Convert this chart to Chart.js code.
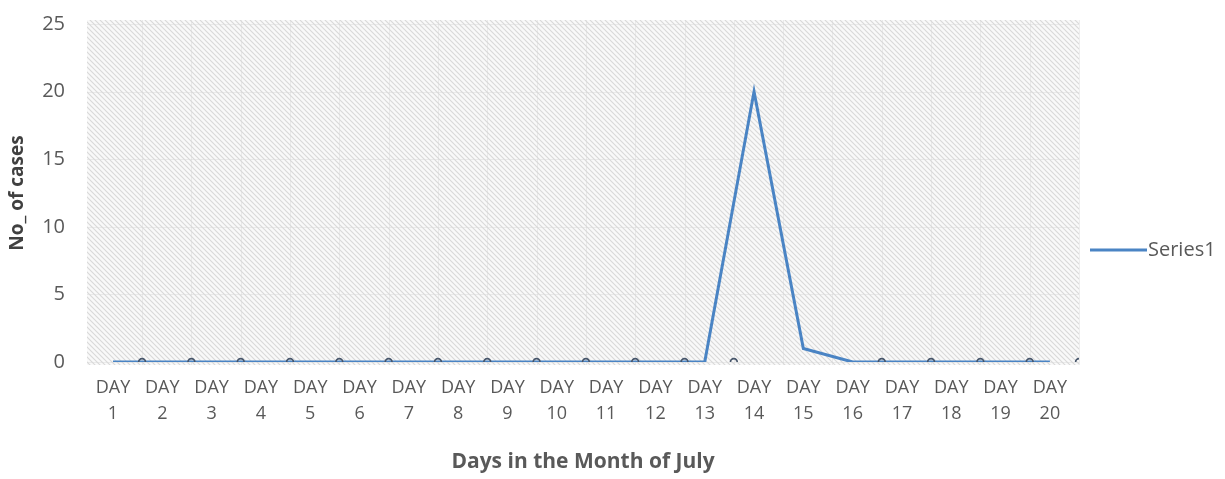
<!DOCTYPE html>
<html>
<head>
<meta charset="utf-8">
<script src="https://cdn.jsdelivr.net/npm/chart.js@4/dist/chart.umd.min.js"></script>
<style>
  html, body { margin: 0; padding: 0; background: #ffffff; }
  #wrap { width: 1225px; height: 479px; }
</style>
</head>
<body>
<div id="wrap"><canvas id="c" width="1225" height="479"></canvas></div>
<script>
// Daily case counts for July
const days = [1, 2, 3, 4, 5, 6, 7, 8, 9, 10, 11, 12, 13, 14, 15, 16, 17, 18, 19, 20];
const cases = [0, 0, 0, 0, 0, 0, 0, 0, 0, 0, 0, 0, 0, 20, 1, 0, 0, 0, 0, 0];
// Small ring marks sitting on the baseline after each day
const markDays = [1, 2, 3, 4, 5, 6, 7, 8, 9, 10, 11, 12, 13, 16, 17, 18, 19, 20];
const markValues = [0, 0, 0, 0, 0, 0, 0, 0, 0, 0, 0, 0, 0, 0, 0, 0, 0, 0];
const yTicks = [0, 5, 10, 15, 20, 25];
const seriesName = 'Series1';
const xTitle = 'Days in the Month of July';
const yTitle = 'No_ of cases';

const MARK_SHIFT = 0.59;
const FONT = '"Open Sans", Lato, "Liberation Sans", sans-serif';
const LINE_BLUE = '#4A84C4';
const TEXT_GREY = '#595959';

// Diagonal hatch used behind the plot
function makeHatch() {
  const p = document.createElement('canvas');
  p.width = 5; p.height = 5;
  const g = p.getContext('2d');
  g.fillStyle = '#f9f9f9';
  g.fillRect(0, 0, 5, 5);
  g.strokeStyle = '#d9d9d9';
  g.lineWidth = 1.1;
  g.beginPath();
  g.moveTo(-1, -1); g.lineTo(6, 6);
  g.moveTo(-1, 4); g.lineTo(1, 6);
  g.moveTo(4, -1); g.lineTo(6, 1);
  g.stroke();
  return p;
}

const plotBackground = {
  id: 'plotBackground',
  beforeDraw(chart) {
    const { ctx, chartArea: a, scales } = chart;
    ctx.save();
    ctx.fillStyle = ctx.createPattern(makeHatch(), 'repeat');
    ctx.fillRect(a.left, a.top - 4, a.right - a.left, a.bottom - a.top + 7);
    // faint grid: horizontal at each y tick, vertical between days
    ctx.strokeStyle = 'rgba(215,215,215,0.45)';
    ctx.lineWidth = 1;
    ctx.beginPath();
    yTicks.forEach(v => {
      const y = Math.round(scales.y.getPixelForValue(v)) + 0.5;
      ctx.moveTo(a.left, y); ctx.lineTo(a.right, y);
    });
    days.forEach(d => {
      const x = Math.round(scales.x.getPixelForValue(d + MARK_SHIFT)) + 0.5;
      ctx.moveTo(x, a.top - 4); ctx.lineTo(x, a.bottom + 3);
    });
    ctx.stroke();
    ctx.restore();
  }
};

const sideLegend = {
  id: 'sideLegend',
  afterDraw(chart) {
    const { ctx } = chart;
    const ds = chart.data.datasets[1];
    const y = 250;
    ctx.save();
    ctx.strokeStyle = ds.borderColor;
    ctx.lineWidth = 3;
    ctx.beginPath();
    ctx.moveTo(1090, y); ctx.lineTo(1147, y);
    ctx.stroke();
    ctx.fillStyle = TEXT_GREY;
    ctx.font = '20px ' + FONT;
    ctx.textBaseline = 'middle';
    ctx.textAlign = 'left';
    ctx.fillText(ds.label, 1148, y);
    ctx.restore();
  }
};

new Chart(document.getElementById('c'), {
  type: 'line',
  data: {
    datasets: [
      {
        label: 'marks',
        data: markDays.map((d, i) => ({ x: d + MARK_SHIFT, y: markValues[i] })),
        showLine: false,
        pointRadius: 3.4,
        pointBorderWidth: 1.6,
        pointBorderColor: '#46556a',
        pointBackgroundColor: 'rgba(255,255,255,0)',
        order: 0
      },
      {
        label: seriesName,
        data: days.map((d, i) => ({ x: d, y: cases[i] })),
        borderColor: LINE_BLUE,
        borderWidth: 3,
        pointRadius: 0,
        tension: 0,
        order: 1
      }
    ]
  },
  options: {
    responsive: false,
    animation: false,
    events: [],
    layout: { padding: { left: 0, right: 146, top: 24, bottom: 0 } },
    plugins: { legend: { display: false }, tooltip: { enabled: false } },
    scales: {
      x: {
        type: 'linear',
        min: 0.473,
        max: 20.59,
        border: { display: false },
        grid: { display: false, drawTicks: false },
        afterBuildTicks(scale) { scale.ticks = days.map(v => ({ value: v })); },
        afterFit(scale) { scale.height = 117; },
        ticks: {
          autoSkip: false,
          maxRotation: 0,
          padding: 13,
          color: TEXT_GREY,
          font: { family: FONT, size: 18, lineHeight: '26px' },
          callback: v => ['DAY', String(v)]
        },
        title: {
          display: true,
          text: xTitle,
          color: TEXT_GREY,
          font: { family: FONT, size: 21, weight: 'bold' },
          padding: { top: 0, bottom: 4 }
        }
      },
      y: {
        min: 0,
        max: 25,
        border: { display: false },
        grid: { display: false, drawTicks: false },
        afterBuildTicks(scale) { scale.ticks = yTicks.map(v => ({ value: v })); },
        afterFit(scale) {
          scale.width = 87;
          scale.paddingTop = 0;
          scale.paddingBottom = 0;
        },
        ticks: {
          padding: 22,
          color: TEXT_GREY,
          font: { family: FONT, size: 20 }
        },
        title: {
          display: true,
          text: yTitle,
          color: '#404040',
          font: { family: FONT, size: 19, weight: 'bold' },
          padding: { top: 6, bottom: 0 }
        }
      }
    }
  },
  plugins: [plotBackground, sideLegend]
});
</script>
</body>
</html>
